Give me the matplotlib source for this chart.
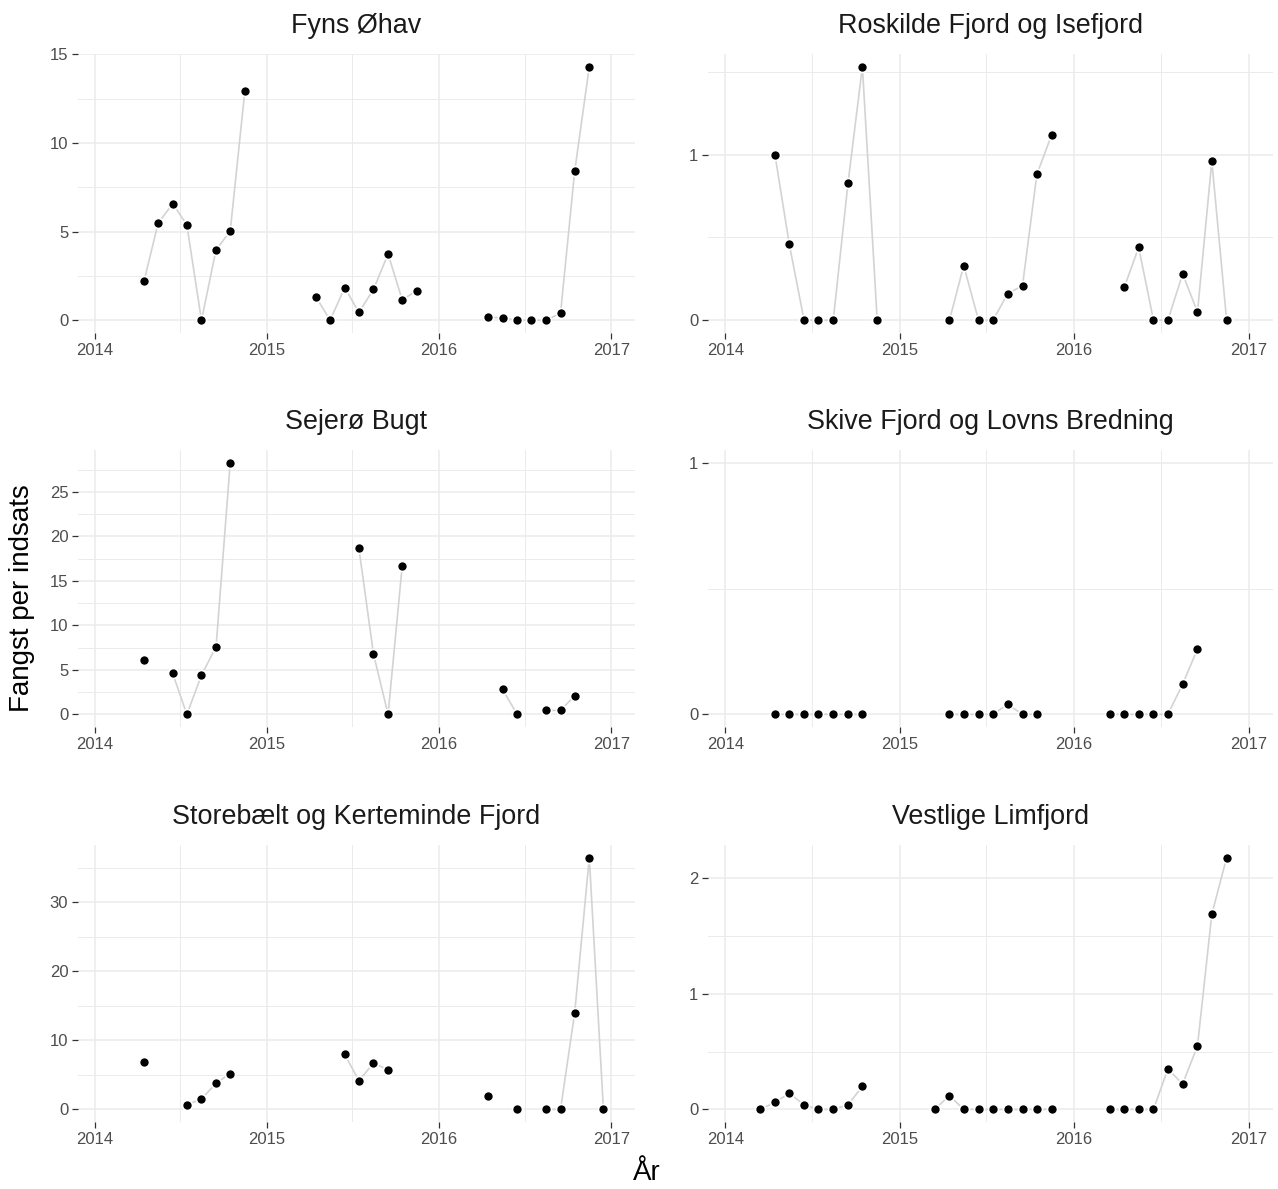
from datetime import datetime
import numpy as np
import matplotlib.pyplot as plt
import matplotlib.dates as mdates
from matplotlib.ticker import MultipleLocator
from matplotlib.transforms import offset_copy

plt.rcParams['font.family'] = ['Liberation Sans', 'DejaVu Sans']

nan = np.nan

# monthly catch per effort, Jan 2014 .. Dec 2016 (one row per year), nan = no survey
years = [2014, 2015, 2016]
months = [datetime(y, m, 15) for y in years for m in range(1, 13)]

fyns = [nan, nan, nan, 2.2, 5.47, 6.58, 5.38, 0, 3.98, 5.02, 12.92, nan,
        nan, nan, nan, 1.32, 0, 1.85, 0.45, 1.74, 3.74, 1.15, 1.68, nan,
        nan, nan, nan, 0.19, 0.13, 0, 0, 0, 0.4, 8.4, 14.3, nan]

roskilde = [nan, nan, nan, 1.0, 0.46, 0, 0, 0, 0.83, 1.53, 0, nan,
            nan, nan, nan, 0, 0.33, 0, 0, 0.16, 0.21, 0.88, 1.12, nan,
            nan, nan, nan, 0.2, 0.44, 0, 0, 0.28, 0.05, 0.96, 0, nan]

sejero = [nan, nan, nan, 6.1, nan, 4.6, 0, 4.4, 7.6, 28.3, nan, nan,
          nan, nan, nan, nan, nan, nan, 18.7, 6.8, 0, 16.7, nan, nan,
          nan, nan, nan, nan, 2.8, 0, nan, 0.45, 0.45, 2.1, nan, nan]

skive = [nan, nan, nan, 0, 0, 0, 0, 0, 0, 0, nan, nan,
         nan, nan, nan, 0, 0, 0, 0, 0.04, 0, 0, nan, nan,
         nan, nan, 0, 0, 0, 0, 0, 0.12, 0.26, nan, nan, nan]

storebaelt = [nan, nan, nan, 6.8, nan, nan, 0.7, 1.5, 3.8, 5.2, nan, nan,
              nan, nan, nan, nan, nan, 8.0, 4.15, 6.7, 5.75, nan, nan, nan,
              nan, nan, nan, 2.0, nan, 0, nan, 0, 0, 14.0, 36.5, 0]

vestlige = [nan, nan, 0, 0.06, 0.14, 0.04, 0, 0, 0.04, 0.2, nan, nan,
            nan, nan, 0, 0.12, 0, 0, 0, 0, 0, 0, 0, nan,
            nan, nan, 0, 0, 0, 0, 0.35, 0.22, 0.55, 1.69, 2.18, nan]

titles = ["Fyns Øhav", "Roskilde Fjord og Isefjord", "Sejerø Bugt",
          "Skive Fjord og Lovns Bredning", "Storebælt og Kerteminde Fjord",
          "Vestlige Limfjord"]
series = [fyns, roskilde, sejero, skive, storebaelt, vestlige]
y_steps = [5, 1, 5, 1, 10, 1]
y_min_top = [0, 0, 0, 1, 0, 0]   # Skive panel is drawn up to 1

W, H = 1278, 1189
fig = plt.figure(figsize=(W / 100, H / 100), dpi=100)

# panel boxes in pixels
col_x = [78, 708]
col_w = [557, 565]
row_y = [54, 450, 845]
row_h = [279, 277, 277]

for i, (title, vals) in enumerate(zip(titles, series)):
    r, c = divmod(i, 2)
    ax = fig.add_axes([col_x[c] / W, 1 - (row_y[r] + row_h[r]) / H,
                       col_w[c] / W, row_h[r] / H])
    vals = np.array(vals, dtype=float)

    ax.plot(months, vals, color='#D3D3D3', lw=1.2, zorder=2)
    ax.plot(months, vals, 'o', ms=7.2, mfc='black', mec='white', mew=1.2, zorder=3)

    lo = 0
    hi = max(np.nanmax(vals), y_min_top[i])
    pad = 0.05 * (hi - lo)
    ax.set_ylim(lo - pad, hi + pad)
    ax.set_xlim(datetime(2013, 11, 26), datetime(2017, 2, 20))

    ax.yaxis.set_major_locator(MultipleLocator(y_steps[i]))
    ax.yaxis.set_minor_locator(MultipleLocator(y_steps[i] / 2))
    ax.xaxis.set_major_locator(mdates.YearLocator())
    ax.xaxis.set_minor_locator(mdates.MonthLocator(bymonth=7))
    ax.xaxis.set_major_formatter(mdates.DateFormatter('%Y'))

    ax.grid(which='major', color='#EBEBEB', lw=1.1)
    ax.grid(which='minor', color='#EBEBEB', lw=0.7)
    ax.set_axisbelow(True)
    for s in ax.spines.values():
        s.set_visible(False)

    ax.tick_params(which='major', length=4, width=0.9, color='#333333',
                   labelsize=12, labelcolor='#4D4D4D', pad=3)
    ax.tick_params(which='minor', length=0)

    ax.text(0.5, 1, title, transform=offset_copy(ax.transAxes, fig=fig, y=21, units='dots'),
            ha='center', va='baseline', fontsize=19.4, color='#1A1A1A')

fig.text(22 / W, 1 - 598 / H, 'Fangst per indsats', rotation=90,
         ha='center', va='center', fontsize=20, color='black')
fig.text(647 / W, 1 - 1173 / H, 'År', ha='center', va='center',
         fontsize=20, color='black')

fig.savefig('out.png', dpi=100)
